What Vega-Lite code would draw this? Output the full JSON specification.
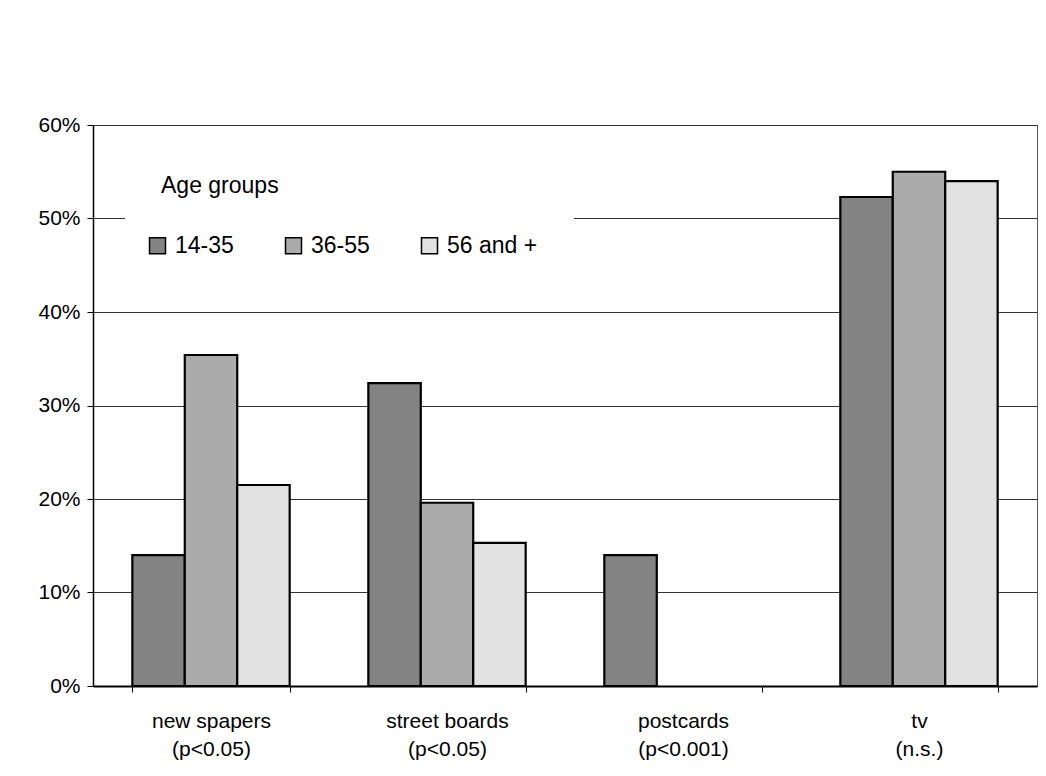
{
  "$schema": "https://vega.github.io/schema/vega-lite/v6.json",
  "autosize": "none",
  "width": 944,
  "height": 561,
  "padding": {"left": 93, "top": 125, "right": 9, "bottom": 90},
  "background": "white",
  "config": {
    "font": "Liberation Sans",
    "view": {"stroke": "#555", "strokeWidth": 1}
  },
  "data": {
    "values": [
      {"medium": "new spapers|(p<0.05)", "group": "14-35", "value": 0.140},
      {"medium": "new spapers|(p<0.05)", "group": "36-55", "value": 0.354},
      {"medium": "new spapers|(p<0.05)", "group": "56 and +", "value": 0.215},
      {"medium": "street boards|(p<0.05)", "group": "14-35", "value": 0.324},
      {"medium": "street boards|(p<0.05)", "group": "36-55", "value": 0.196},
      {"medium": "street boards|(p<0.05)", "group": "56 and +", "value": 0.153},
      {"medium": "postcards| (p<0.001)", "group": "14-35", "value": 0.140},
      {"medium": "tv|(n.s.)", "group": "14-35", "value": 0.523},
      {"medium": "tv|(n.s.)", "group": "36-55", "value": 0.550},
      {"medium": "tv|(n.s.)", "group": "56 and +", "value": 0.540}
    ]
  },
  "mark": {"type": "bar", "stroke": "black", "strokeWidth": 2.2},
  "encoding": {
    "x": {
      "field": "medium",
      "type": "nominal",
      "sort": null,
      "scale": {"paddingInner": 0.3333, "paddingOuter": 0.1667},
      "axis": {
        "title": null,
        "labelExpr": "split(datum.label, '|')",
        "labelAngle": 0,
        "tickBand": "extent",
        "tickSize": 6,
        "tickColor": "black",
        "tickWidth": 1,
        "domainColor": "black",
        "domainWidth": 2,
        "labelPadding": 18,
        "labelFontSize": 21,
        "labelLineHeight": 28,
        "labelColor": "black",
        "labelBaseline": "top"
      }
    },
    "xOffset": {
      "field": "group",
      "type": "nominal",
      "sort": ["14-35", "36-55", "56 and +"],
      "scale": {"paddingInner": 0, "paddingOuter": 0}
    },
    "y": {
      "field": "value",
      "type": "quantitative",
      "scale": {"domain": [0, 0.6], "nice": false},
      "axis": {
        "title": null,
        "format": ".0%",
        "values": [0, 0.1, 0.2, 0.3, 0.4, 0.5, 0.6],
        "grid": true,
        "gridColor": "#333",
        "gridWidth": 1,
        "tickSize": 6,
        "tickColor": "black",
        "domainColor": "black",
        "domainWidth": 1.5,
        "labelPadding": 7,
        "labelFontSize": 21,
        "labelColor": "black"
      }
    },
    "color": {
      "field": "group",
      "type": "nominal",
      "sort": ["14-35", "36-55", "56 and +"],
      "scale": {"domain": ["14-35", "36-55", "56 and +"], "range": ["#838383", "#ababab", "#e2e2e2"]},
      "legend": {
        "orient": "none",
        "legendX": 32,
        "legendY": 14,
        "direction": "horizontal",
        "title": "Age groups",
        "titleFontSize": 23,
        "titleFontWeight": "normal",
        "titleColor": "black",
        "titlePadding": 36,
        "labelFontSize": 23,
        "labelColor": "black",
        "labelOffset": 6,
        "symbolType": "square",
        "symbolSize": 256,
        "symbolStrokeColor": "black",
        "symbolStrokeWidth": 1.5,
        "symbolOpacity": 1,
        "symbolOffset": -15,
        "columnPadding": 48,
        "fillColor": "white",
        "padding": 36
      }
    }
  }
}
